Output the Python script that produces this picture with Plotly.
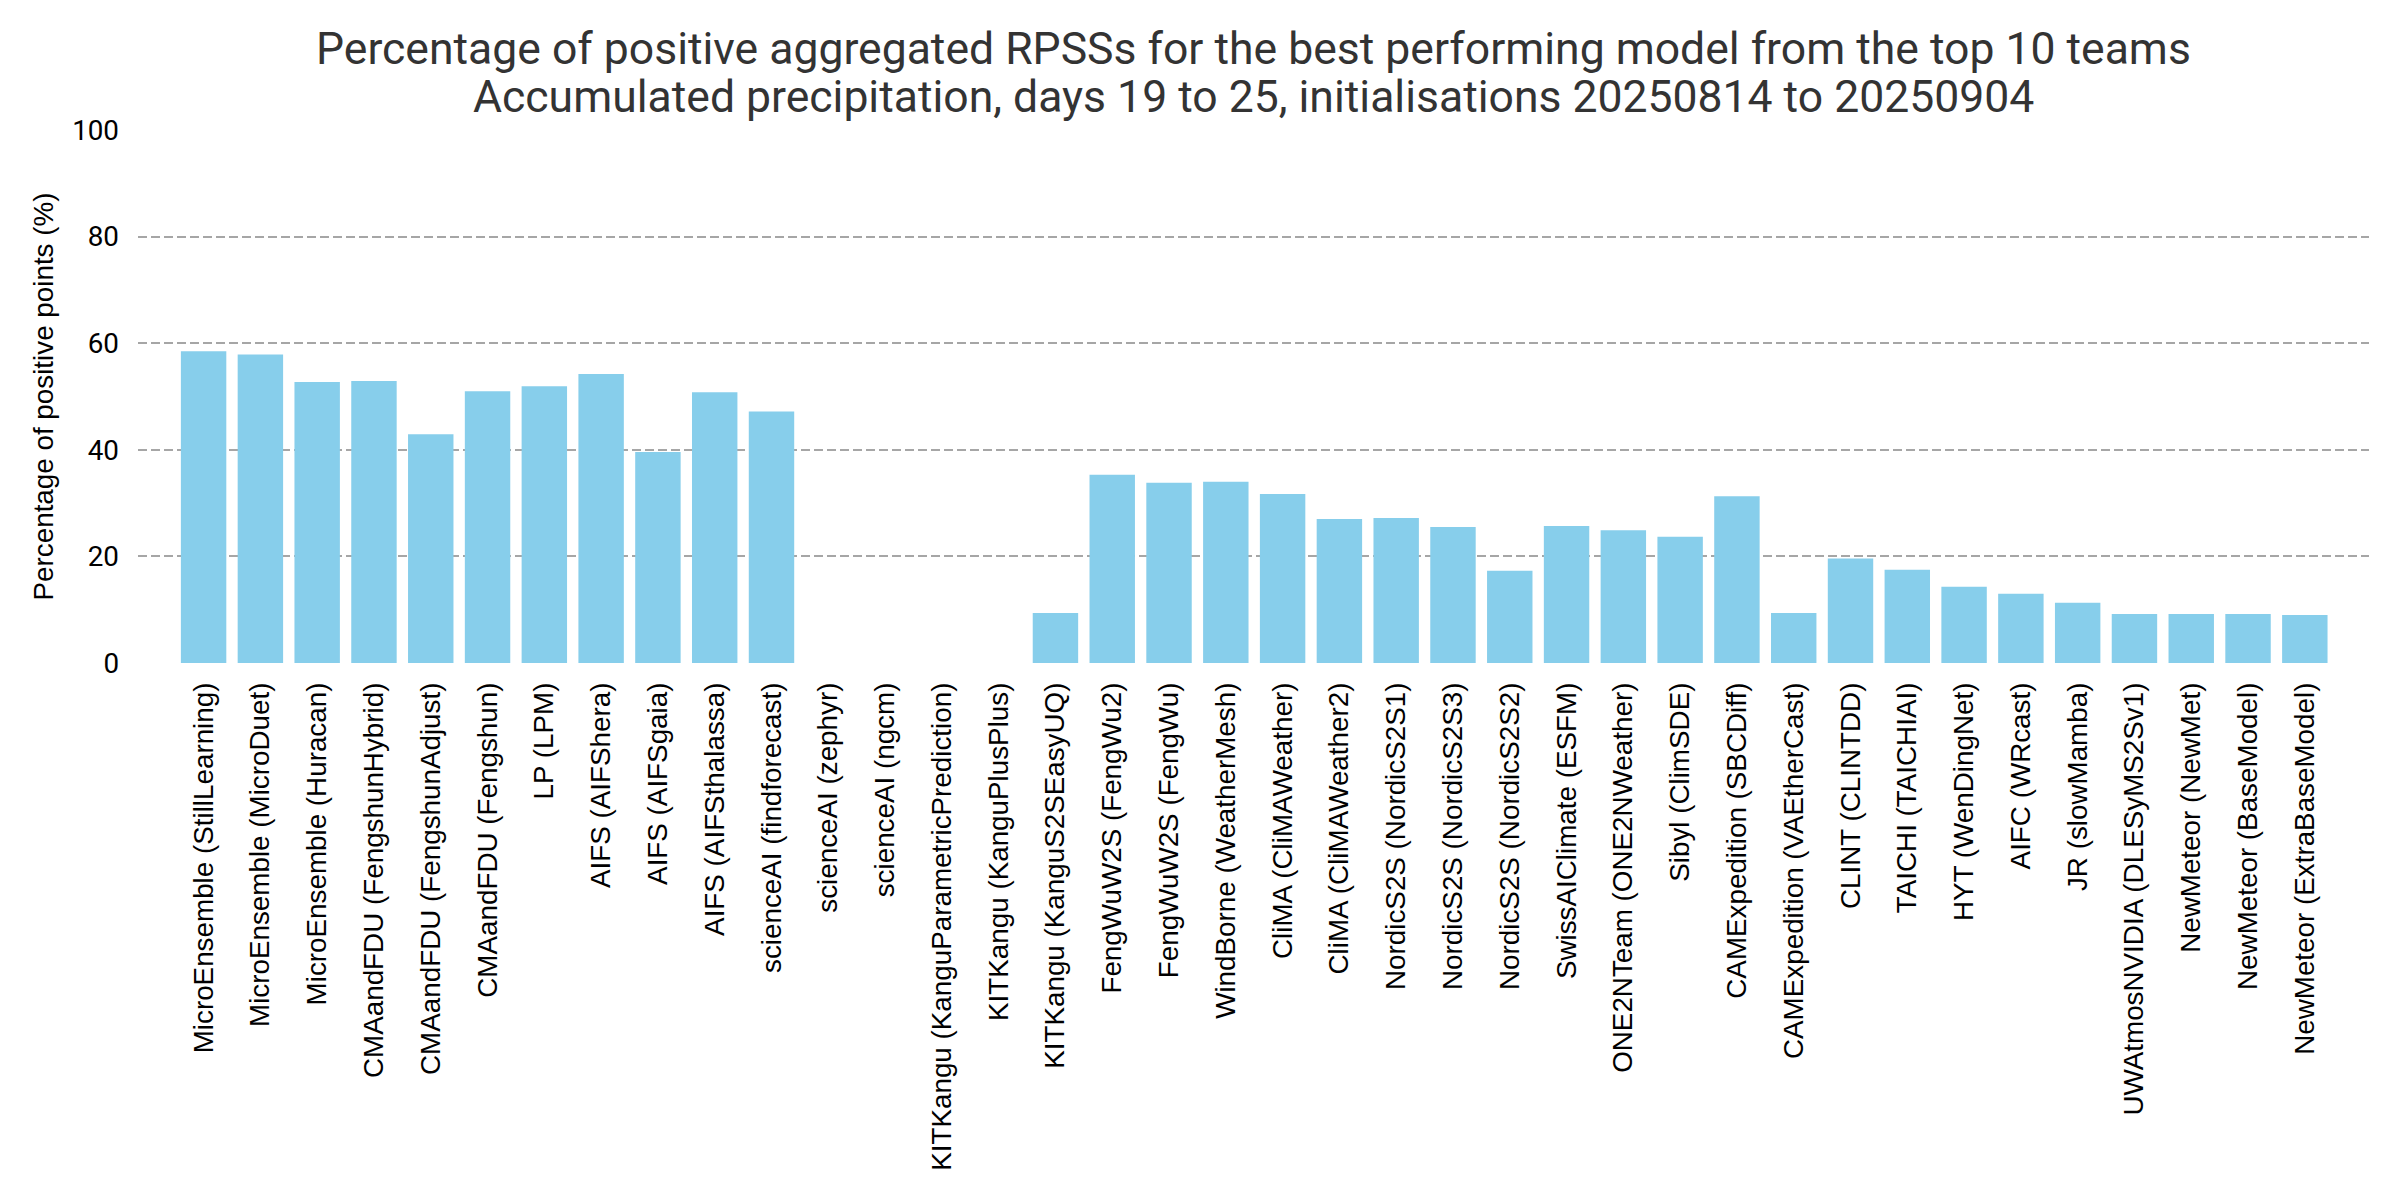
import plotly.graph_objects as go

models = [
    "MicroEnsemble (StillLearning)", "MicroEnsemble (MicroDuet)", "MicroEnsemble (Huracan)",
    "CMAandFDU (FengshunHybrid)", "CMAandFDU (FengshunAdjust)", "CMAandFDU (Fengshun)",
    "LP (LPM)", "AIFS (AIFShera)", "AIFS (AIFSgaia)", "AIFS (AIFSthalassa)",
    "scienceAI (findforecast)", "scienceAI (zephyr)", "scienceAI (ngcm)",
    "KITKangu (KanguParametricPrediction)", "KITKangu (KanguPlusPlus)", "KITKangu (KanguS2SEasyUQ)",
    "FengWuW2S (FengWu2)", "FengWuW2S (FengWu)", "WindBorne (WeatherMesh)",
    "CliMA (CliMAWeather)", "CliMA (CliMAWeather2)", "NordicS2S (NordicS2S1)",
    "NordicS2S (NordicS2S3)", "NordicS2S (NordicS2S2)", "SwissAIClimate (ESFM)",
    "ONE2NTeam (ONE2NWeather)", "Sibyl (ClimSDE)", "CAMExpedition (SBCDiff)",
    "CAMExpedition (VAEtherCast)", "CLINT (CLINTDD)", "TAICHI (TAICHIAI)",
    "HYT (WenDingNet)", "AIFC (WRcast)", "JR (slowMamba)", "UWAtmosNVIDIA (DLESyMS2Sv1)",
    "NewMeteor (NewMet)", "NewMeteor (BaseModel)", "NewMeteor (ExtraBaseModel)",
]
pct_positive = [
    58.5, 57.9, 52.7, 52.9, 42.9, 51.0, 51.9, 54.2, 39.6, 50.8,
    47.2, 0.0, 0.0, 0.0, 0.0, 9.4, 35.3, 33.8, 34.0, 31.7,
    27.0, 27.2, 25.5, 17.3, 25.7, 24.9, 23.7, 31.3, 9.4, 19.6,
    17.5, 14.3, 13.0, 11.3, 9.2, 9.2, 9.2, 9.0,
]
y_ticks = [0, 20, 40, 60, 80, 100]

title_line1 = "Percentage of positive aggregated RPSSs for the best performing model from the top 10 teams"
title_line2 = "Accumulated precipitation, days 19 to 25, initialisations 20250814 to 20250904"

W, H = 2400, 1200
ML, MR, MT, MB = 130, 39, 121.5, 544.7
plot_h = H - MT - MB


def ypaper(y_px):
    return (H - MB - y_px) / plot_h


fig = go.Figure()
fig.add_trace(go.Bar(
    x=list(range(len(models))), y=pct_positive,
    marker=dict(color="#87CEEB", line=dict(width=0)),
    width=0.8,
))

for txt, ymid in [(title_line1, 40), (title_line2, 88)]:
    fig.add_annotation(
        text=txt, xref="paper", yref="paper", x=0.5, y=ypaper(ymid),
        xanchor="center", yanchor="middle", showarrow=False,
        font=dict(family="Roboto", size=44.5, color="#333333"),
    )

fig.update_layout(
    width=W, height=H,
    margin=dict(l=ML, r=MR, t=MT, b=MB, autoexpand=False),
    paper_bgcolor="white", plot_bgcolor="white",
    font=dict(family="Roboto", size=28, color="#000000"),
    showlegend=False,
    xaxis=dict(
        tickmode="array", tickvals=list(range(len(models))), ticktext=models,
        tickangle=-90, range=[-1.155, len(models) - 1 + 1.13],
        showgrid=False, zeroline=False, showline=False, ticks="",
        ticklabelstandoff=13, automargin=False,
        tickfont=dict(family="Liberation Sans", size=27.8, color="#000000"),
    ),
    yaxis=dict(
        range=[0, 100], tickmode="array", tickvals=y_ticks,
        showgrid=True, gridcolor="#a6a6a6", gridwidth=1.6, griddash="9px,4px",
        zeroline=False, showline=False, ticks="", ticklabelstandoff=18,
        automargin=False,
        tickfont=dict(family="Roboto", size=27.8, color="#000000"),
        title=dict(text="Percentage of positive points (%)", standoff=10,
                   font=dict(family="Liberation Sans", size=27.8, color="#000000")),
    ),
)

fig.write_html("out.html")
